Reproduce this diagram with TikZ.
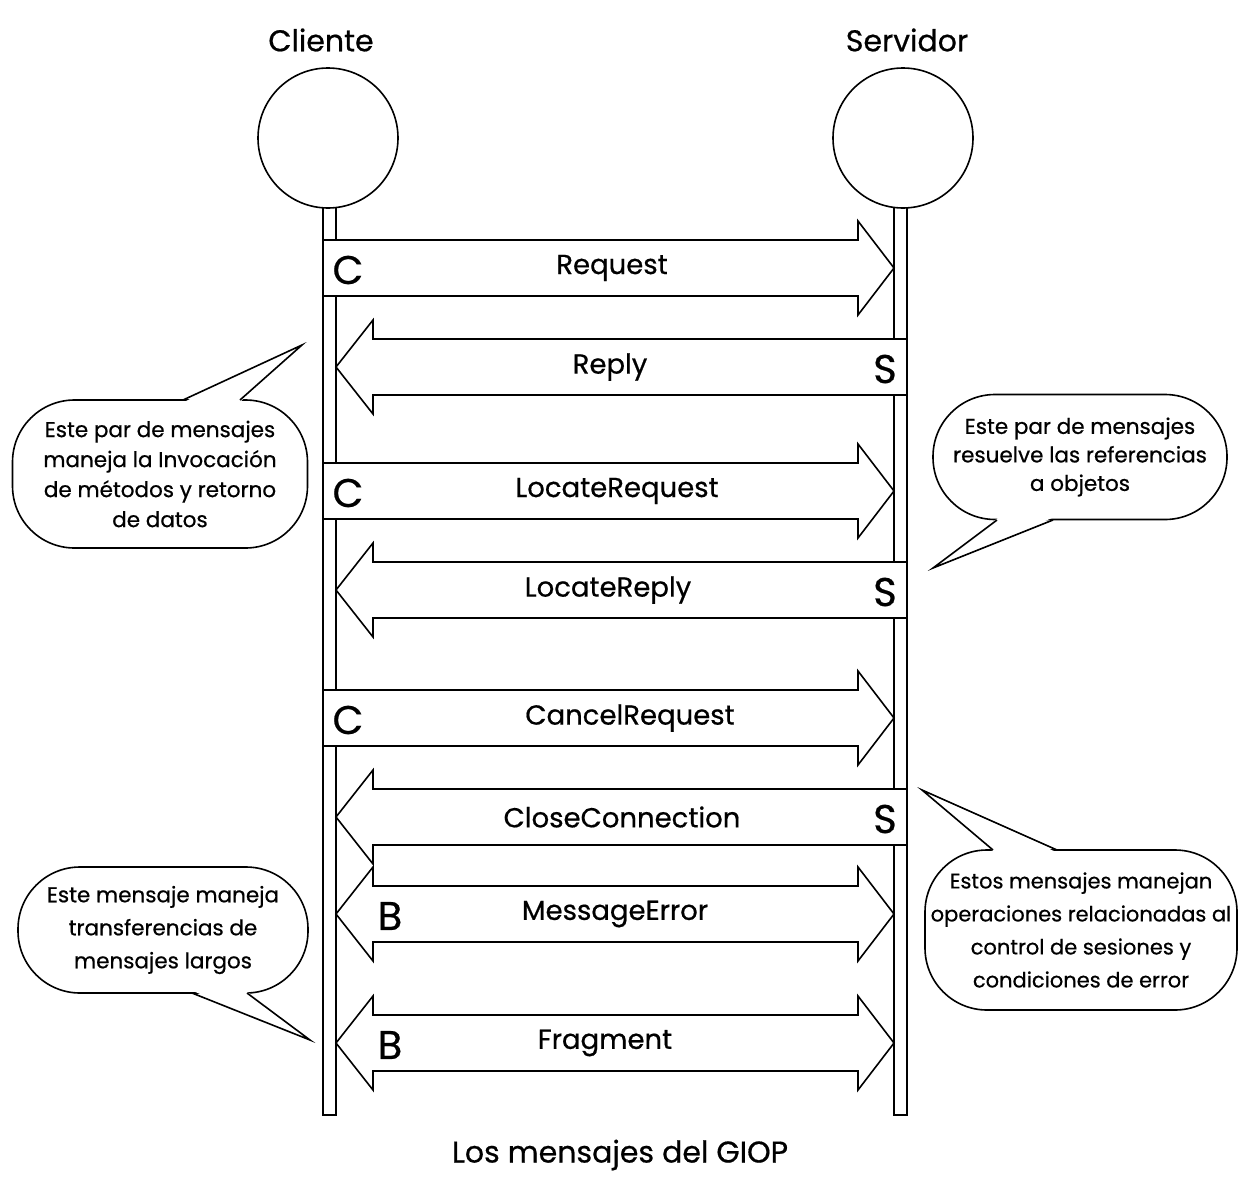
\documentclass[tikz,border=0pt]{standalone}
\usepackage{fontspec}
\setmainfont{Poppins}[FakeBold=0.6]
\begin{document}
\begin{tikzpicture}[x=1pt,y=-1pt,line width=1.6pt,line join=miter,
  msg/.style={draw=black,fill=white},
  lbl/.style={font=\fontsize{27.5}{30}\selectfont,inner sep=0pt},
  tag/.style={font=\fontsize{40}{42}\selectfont,inner sep=0pt},
  head/.style={font=\fontsize{30}{32}\selectfont,inner sep=0pt},
  party/.style={circle,draw,fill=white,minimum size=140pt,inner sep=0pt},
  lifeline/.style={draw,fill=white},
  bubble/.style={draw,fill=white,rounded corners=62pt,align=center,inner sep=0pt},
]
\useasboundingbox (0,0) rectangle (1240,1178);

% message arrows: client -> server, server -> client, both ways
\newcommand\msgright[4]{%
  \draw[msg] (323,#2-28) -- (858,#2-28) -- (858,#2-47) -- (894,#2) -- (858,#2+47) -- (858,#2+28) -- (323,#2+28) -- cycle;
  \node[lbl] (#1) at (#3,#2) {#4};
  \node[tag] (#1-tag) at (348,#2+2) {C};}
\newcommand\msgleft[4]{%
  \draw[msg] (907,#2-28) -- (373,#2-28) -- (373,#2-47) -- (336,#2) -- (373,#2+47) -- (373,#2+28) -- (907,#2+28) -- cycle;
  \node[lbl] (#1) at (#3,#2) {#4};
  \node[tag] (#1-tag) at (885,#2+2) {S};}
\newcommand\msgboth[4]{%
  \draw[msg] (373,#2-28) -- (858,#2-28) -- (858,#2-47) -- (894,#2) -- (858,#2+47) -- (858,#2+28) -- (373,#2+28) -- (373,#2+47) -- (336,#2) -- (373,#2-47) -- cycle;
  \node[lbl] (#1) at (#3,#2) {#4};
  \node[tag] (#1-tag) at (390,#2+2) {B};}

% participants
\node[head] (cliente-lbl) at (321,40) {Cliente};
\node[head] (servidor-lbl) at (907,40) {Servidor};
\draw[lifeline] (323,200) rectangle (336,1115);
\draw[lifeline] (894,200) rectangle (907,1115);
\node[party] (cliente) at (328,138) {};
\node[party] (servidor) at (903,138) {};

% messages
\msgright{request}{268}{612}{Request}
\msgleft{reply}{367}{610}{Reply}
\msgright{locreq}{491}{617}{LocateRequest}
\msgleft{locrep}{590}{608}{LocateReply}
\msgright{cancel}{718}{630}{CancelRequest}
\msgleft{close}{817}{622}{CloseConnection}
\msgboth{msgerr}{914}{615}{MessageError}
\msgboth{fragment}{1043}{605}{Fragment}

% callouts
\node[bubble,minimum width=295pt,minimum height=148pt,
      font=\fontsize{21.5}{30}\selectfont] (note1) at (160,474)
  {Este par de mensajes\\maneja la Invocación\\de métodos y retorno\\de datos};
\fill[white] (184,402) -- (302,345) -- (240,402) -- cycle;
\draw (183,400) -- (302,345) -- (240,400);

\node[bubble,minimum width=294pt,minimum height=125pt,
      font=\fontsize{21.5}{28.5}\selectfont] (note2) at (1080,457)
  {Este par de mensajes\\resuelve las referencias\\a objetos};
\fill[white] (998,518) -- (933,568) -- (1052,518) -- cycle;
\draw (997,520) -- (933,568) -- (1053,520);

\node[bubble,minimum width=290pt,minimum height=126pt,
      font=\fontsize{21.5}{33}\selectfont] (note3) at (163,930)
  {Este mensaje maneja\\transferencias de\\mensajes largos};
\fill[white] (193,991) -- (310,1040) -- (246,991) -- cycle;
\draw (192,993) -- (310,1040) -- (247,993);

\node[bubble,minimum width=312pt,minimum height=160pt,
      font=\fontsize{21}{33}\selectfont] (note4) at (1081,930)
  {Estos mensajes manejan\\operaciones relacionadas al\\control de sesiones y\\condiciones de error};
\fill[white] (994,852) -- (922,790) -- (1056,852) -- cycle;
\draw (993,850) -- (922,790) -- (1057,850);

% caption
\node[head] (caption) at (620,1155) {Los mensajes del GIOP};
\end{tikzpicture}
\end{document}
